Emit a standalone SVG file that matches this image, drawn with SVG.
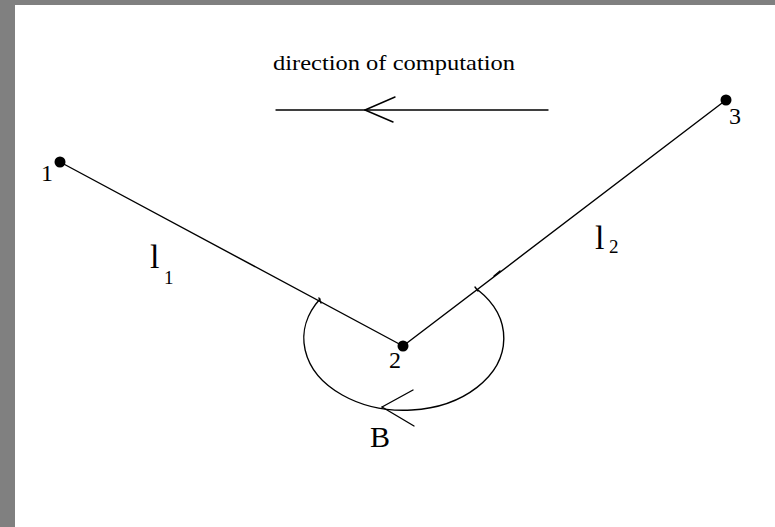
<svg xmlns="http://www.w3.org/2000/svg" width="775" height="527" viewBox="0 0 775 527">
<style>
.ln{stroke:#000;stroke-width:1.4;fill:none;stroke-linecap:round}
.dot{fill:#000}
.t{font-family:"Liberation Serif","Times New Roman",serif;fill:#000}
</style>
<rect x="0" y="0" width="775" height="527" fill="#ffffff"/>
<rect x="0" y="0" width="775" height="5" fill="#808080"/>
<rect x="0" y="0" width="15" height="527" fill="#808080"/>
<g id="title">
<text class="t" x="273" y="70" font-size="22" textLength="242" lengthAdjust="spacingAndGlyphs">direction of computation</text>
<g id="direction-arrow">
<line class="ln" x1="276" y1="110" x2="548" y2="110"/>
<line class="ln" x1="365" y1="110" x2="395" y2="97"/>
<line class="ln" x1="365" y1="110" x2="393" y2="122"/>
</g>
</g>
<g id="connectors">
<line id="l1-line" class="ln" x1="60" y1="162" x2="403" y2="346"/>
<line id="l2-line" class="ln" x1="403" y1="346" x2="726" y2="100"/>
<line class="ln" x1="319" y1="298" x2="321" y2="303" stroke-width="1"/>
<line class="ln" x1="475" y1="287" x2="478" y2="291" stroke-width="1"/>
<line class="ln" x1="494" y1="276" x2="500" y2="271" stroke-width="3"/>
</g>
<g id="angle-B">
<path class="ln" d="M320,299 A100,72 0 1 0 478,290"/>
<line class="ln" x1="382" y1="407" x2="413" y2="390"/>
<line class="ln" x1="382" y1="407" x2="414" y2="426"/>
<text class="t" x="370" y="447" font-size="30">B</text>
</g>
<g id="node-1">
<circle class="dot" cx="60" cy="162" r="5.5"/>
<text class="t" x="41" y="181" font-size="24">1</text>
</g>
<g id="node-2">
<circle class="dot" cx="403" cy="346" r="5.5"/>
<text class="t" x="389" y="368" font-size="24">2</text>
</g>
<g id="node-3">
<circle class="dot" cx="726" cy="100" r="5.5"/>
<text class="t" x="729" y="124" font-size="24">3</text>
</g>
<g id="label-l1">
<text class="t" x="150" y="268" font-size="34">l</text>
<text class="t" x="164" y="284" font-size="19">1</text>
</g>
<g id="label-l2">
<text class="t" x="595" y="249" font-size="34">l</text>
<text class="t" x="609" y="253" font-size="19">2</text>
</g>
</svg>
